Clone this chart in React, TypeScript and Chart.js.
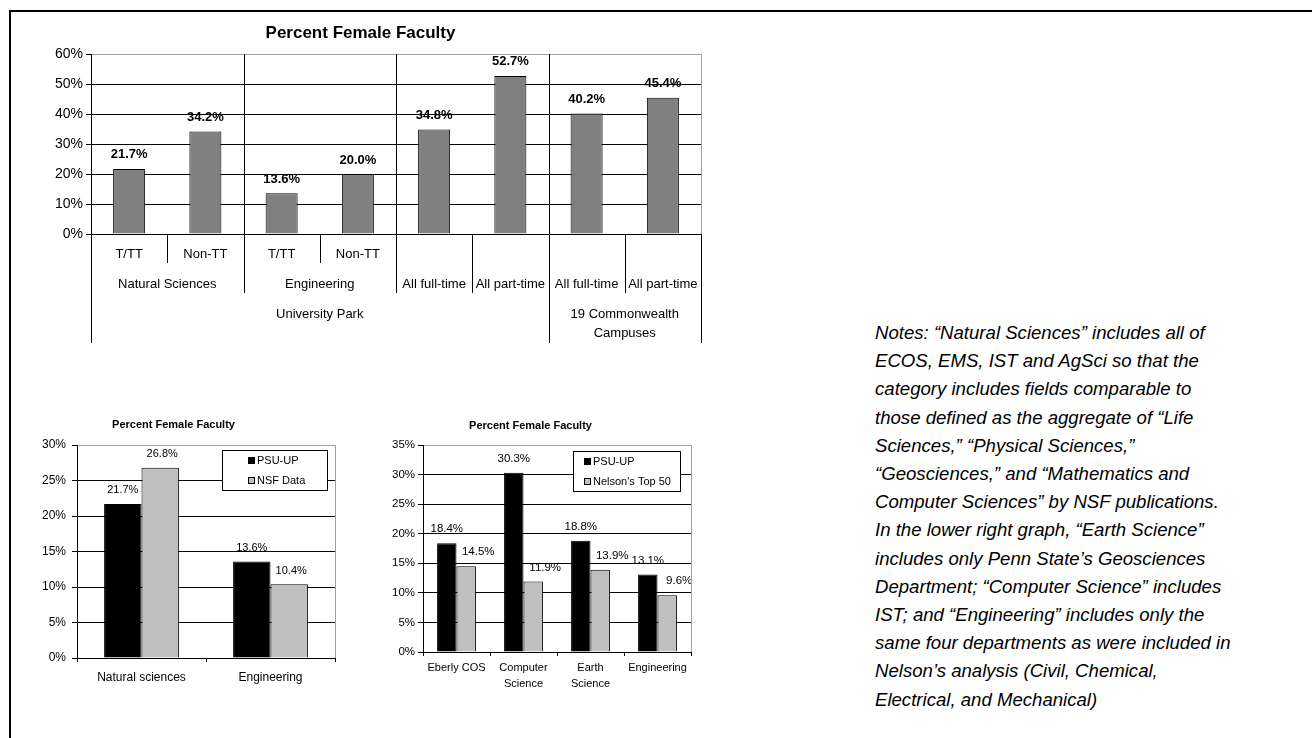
import React, { useEffect, useRef } from 'react';
import { Chart, registerables } from 'chart.js';

Chart.register(...registerables);

const FONT = "'Liberation Sans', Arial, Helvetica, sans-serif";
Chart.defaults.font.family = FONT;
Chart.defaults.color = '#000';

// ---------- Top chart data ----------
const topTitle = 'Percent Female Faculty';
const topValues = [21.7, 34.2, 13.6, 20.0, 34.8, 52.7, 40.2, 45.4];
const topLevel1 = ['T/TT', 'Non-TT', 'T/TT', 'Non-TT', '', '', '', ''];
const topLevel2: [string, number][] = [
  ['Natural Sciences', 2],
  ['Engineering', 2],
  ['All full-time', 1],
  ['All part-time', 1],
  ['All full-time', 1],
  ['All part-time', 1],
];
const topLevel3: [string[], number][] = [
  [['University Park'], 6],
  [['19 Commonwealth', 'Campuses'], 2],
];
const topMax = 60;
const topStep = 10;

// ---------- Lower left chart data ----------
const nsfTitle = 'Percent Female Faculty';
const nsfCategories = ['Natural sciences', 'Engineering'];
const nsfSeries = ['PSU-UP', 'NSF Data'];
const nsfPsu = [21.7, 13.6];
const nsfNsf = [26.8, 10.4];
const nsfMax = 30;
const nsfStep = 5;

// ---------- Lower right chart data ----------
const nelTitle = 'Percent Female Faculty';
const nelCategories = [['Eberly COS'], ['Computer', 'Science'], ['Earth', 'Science'], ['Engineering']];
const nelSeries = ['PSU-UP', "Nelson's Top 50"];
const nelPsu = [18.4, 30.3, 18.8, 13.1];
const nelTop = [14.5, 11.9, 13.9, 9.6];
const nelMax = 35;
const nelStep = 5;

// ---------- Notes ----------
const noteLines = [
  'Notes: \u201CNatural Sciences\u201D includes all of',
  'ECOS, EMS, IST and AgSci so that the',
  'category includes fields comparable to',
  'those defined as the aggregate of \u201CLife',
  'Sciences,\u201D \u201CPhysical Sciences,\u201D',
  '\u201CGeosciences,\u201D and \u201CMathematics and',
  'Computer Sciences\u201D by NSF publications.',
  'In the lower right graph, \u201CEarth Science\u201D',
  'includes only Penn State\u2019s Geosciences',
  'Department; \u201CComputer Science\u201D includes',
  'IST; and \u201CEngineering\u201D includes only the',
  'same four departments as were included in',
  'Nelson\u2019s analysis (Civil, Chemical,',
  'Electrical, and Mechanical)',
];

const pct = (v: number) => v.toFixed(1) + '%';

// ---------- Plugins ----------
const plotBorderPlugin = {
  id: 'plotBorder',
  afterDraw(chart: any, _a: any, o: any) {
    const { ctx, chartArea: a } = chart;
    ctx.save();
    ctx.strokeStyle = o.color || '#a0a0a0';
    ctx.lineWidth = 1;
    ctx.beginPath();
    const x = Math.round(a.right) + 0.5;
    ctx.moveTo(x, a.top);
    ctx.lineTo(x, a.bottom);
    ctx.stroke();
    ctx.restore();
  },
};

const valueLabelPlugin = {
  id: 'valueLabels',
  afterDatasetsDraw(chart: any, _a: any, o: any) {
    const ctx = chart.ctx;
    ctx.save();
    ctx.font = o.font;
    ctx.fillStyle = '#000';
    ctx.textAlign = 'center';
    ctx.textBaseline = 'middle';
    chart.data.datasets.forEach((ds: any, di: number) => {
      const meta = chart.getDatasetMeta(di);
      const dx = (o.dx && o.dx[di]) || 0;
      meta.data.forEach((bar: any, i: number) => {
        ctx.fillText(pct(ds.data[i]), bar.x + dx, bar.y - o.offset);
      });
    });
    ctx.restore();
  },
};

const boxLegendPlugin = {
  id: 'boxLegend',
  afterDraw(chart: any, _a: any, o: any) {
    const { ctx, chartArea: a } = chart;
    const x = Math.round(a.right - o.right - o.width);
    const y = Math.round(a.top + o.top);
    ctx.save();
    ctx.fillStyle = '#fff';
    ctx.fillRect(x, y, o.width, o.height);
    ctx.strokeStyle = '#000';
    ctx.lineWidth = 1;
    ctx.strokeRect(x + 0.5, y + 0.5, o.width, o.height);
    ctx.font = o.font;
    ctx.textBaseline = 'middle';
    ctx.textAlign = 'left';
    chart.data.datasets.forEach((ds: any, i: number) => {
      const cy = Math.round(y + o.firstRow + i * o.rowGap);
      const sx = x + o.swatchX;
      ctx.fillStyle = ds.backgroundColor;
      ctx.fillRect(sx, cy - 3, 7, 7);
      ctx.strokeStyle = '#000';
      ctx.strokeRect(sx + 0.5, cy - 2.5, 6, 6);
      ctx.fillStyle = '#000';
      ctx.fillText(ds.label, sx + o.textGap, cy + 0.5);
    });
    ctx.restore();
  },
};

// multi-level category axis for the top chart
const groupAxisPlugin = {
  id: 'groupAxis',
  beforeDatasetsDraw(chart: any) {
    const { ctx, chartArea: a, scales } = chart;
    const x = scales.x;
    const bp = (b: number) => Math.round(x.getPixelForValue(b - 0.5)) + 0.5;
    const l2b = new Set<number>();
    let s = 0;
    topLevel2.forEach(([, span]) => {
      if (span > 1) { l2b.add(s); l2b.add(s + span); }
      s += span;
    });
    const l3b = new Set<number>();
    s = 0;
    topLevel3.forEach(([, span]) => { l3b.add(s); l3b.add(s + span); s += span; });
    const n = topValues.length;
    const inner = new Set<number>();
    l2b.forEach((b) => { if (b > 0 && b < n) inner.add(b); });
    l3b.forEach((b) => { if (b > 0 && b < n) inner.add(b); });
    ctx.save();
    ctx.strokeStyle = '#000';
    ctx.lineWidth = 1;
    inner.forEach((b) => {
      ctx.beginPath();
      ctx.moveTo(bp(b), a.top);
      ctx.lineTo(bp(b), a.bottom);
      ctx.stroke();
    });
    ctx.restore();
  },
  afterDraw(chart: any, _a: any, o: any) {
    const { ctx, chartArea: a, scales } = chart;
    const x = scales.x;
    const bp = (b: number) => x.getPixelForValue(b - 0.5);
    const n = topValues.length;
    const l2 = new Set<number>();
    let s = 0;
    l2.add(0);
    topLevel2.forEach(([, span]) => { s += span; l2.add(s); });
    const l3 = new Set<number>();
    s = 0;
    l3.add(0);
    topLevel3.forEach(([, span]) => { s += span; l3.add(s); });

    ctx.save();
    ctx.strokeStyle = '#000';
    ctx.lineWidth = 1;
    const y0 = a.bottom;
    for (let b = 0; b <= n; b++) {
      const depth = l3.has(b) ? o.line3 : l2.has(b) ? o.line2 : o.line1;
      const px = Math.round(bp(b)) + 0.5;
      ctx.beginPath();
      ctx.moveTo(px, y0);
      ctx.lineTo(px, y0 + depth);
      ctx.stroke();
    }
    ctx.fillStyle = '#000';
    ctx.font = o.font;
    ctx.textAlign = 'center';
    ctx.textBaseline = 'middle';
    topLevel1.forEach((lab, i) => {
      if (lab) ctx.fillText(lab, x.getPixelForValue(i), y0 + o.row1);
    });
    s = 0;
    topLevel2.forEach(([lab, span]) => {
      ctx.fillText(lab, (bp(s) + bp(s + span)) / 2, y0 + o.row2);
      s += span;
    });
    s = 0;
    topLevel3.forEach(([lines, span]) => {
      lines.forEach((ln, k) => {
        ctx.fillText(ln, (bp(s) + bp(s + span)) / 2, y0 + o.row3 + k * o.row3Gap);
      });
      s += span;
    });
    ctx.restore();
  },
};

const gridColor = (max: number) => (c: any) =>
  c.tick && c.tick.value === max ? '#a0a0a0' : '#000';

function useChart(ref: React.RefObject<HTMLCanvasElement>, makeConfig: () => any) {
  useEffect(() => {
    if (!ref.current) return;
    const chart = new Chart(ref.current, makeConfig());
    return () => chart.destroy();
  }, []);
}

const topConfig = () => ({
  type: 'bar',
  data: {
    labels: topLevel1.map((l, i) => l || String(i)),
    datasets: [
      {
        label: topTitle,
        data: topValues,
        backgroundColor: '#808080',
        borderColor: '#000',
        borderWidth: 1,
        barPercentage: 0.42,
        categoryPercentage: 1,
      },
    ],
  },
  options: {
    responsive: false,
    animation: false,
    devicePixelRatio: 1,
    layout: { padding: { left: 0, right: 19, top: 0, bottom: 0 } },
    scales: {
      x: {
        ticks: { display: false },
        grid: { display: false },
        border: { color: '#000' },
        afterFit: (s: any) => { s.height = 120; },
      },
      y: {
        min: 0,
        max: topMax,
        ticks: { stepSize: topStep, callback: (v: any) => v + '%', font: { size: 14 }, color: '#000', padding: 3 },
        grid: { color: gridColor(topMax), tickColor: '#000', tickLength: 5 },
        border: { color: '#000' },
        afterFit: (s: any) => { s.width = 71; },
      },
    },
    plugins: {
      legend: { display: false },
      tooltip: { enabled: false },
      title: {
        display: true,
        text: topTitle,
        color: '#000',
        font: { size: 17, weight: 'bold', lineHeight: 1.2 },
        padding: { top: 9.5, bottom: 10.1 },
      },
      valueLabels: { font: 'bold 13px ' + FONT, offset: 14 },
      plotBorder: {},
      groupAxis: { font: '13px ' + FONT, row1: 20, row2: 50, row3: 80, row3Gap: 19, line1: 29, line2: 59, line3: 109 },
    },
  },
  plugins: [groupAxisPlugin, valueLabelPlugin, plotBorderPlugin],
});

const nsfConfig = () => ({
  type: 'bar',
  data: {
    labels: nsfCategories,
    datasets: [
      { label: nsfSeries[0], data: nsfPsu, backgroundColor: '#000000', borderColor: '#000', borderWidth: 1 },
      { label: nsfSeries[1], data: nsfNsf, backgroundColor: '#c0c0c0', borderColor: '#000', borderWidth: 1 },
    ],
  },
  options: {
    responsive: false,
    animation: false,
    devicePixelRatio: 1,
    datasets: { bar: { categoryPercentage: 0.58, barPercentage: 1 } },
    layout: { padding: { left: 0, right: 22, top: 0, bottom: 0 } },
    scales: {
      x: {
        ticks: { font: { size: 12 }, color: '#000', padding: 8 },
        grid: { display: true, drawOnChartArea: false, drawTicks: true, tickLength: 4, color: '#000', offset: true },
        border: { color: '#000' },
        afterFit: (s: any) => { s.height = 47; },
      },
      y: {
        min: 0,
        max: nsfMax,
        ticks: { stepSize: nsfStep, callback: (v: any) => v + '%', font: { size: 12 }, color: '#000', padding: 6 },
        grid: { color: gridColor(nsfMax), tickColor: '#000', tickLength: 5 },
        border: { color: '#000' },
        afterFit: (s: any) => { s.width = 65; },
      },
    },
    plugins: {
      legend: { display: false },
      tooltip: { enabled: false },
      title: {
        display: true,
        text: nsfTitle,
        color: '#000',
        font: { size: 11, weight: 'bold', lineHeight: 1.2 },
        padding: { top: 13.4, bottom: 13.4 },
      },
      valueLabels: { font: '11px ' + FONT, offset: 13.5, dx: [0, 2] },
      boxLegend: { font: '11px ' + FONT, right: 8, top: 5, width: 105, height: 40, firstRow: 10, rowGap: 20, swatchX: 26, textGap: 9 },
      plotBorder: {},
    },
  },
  plugins: [valueLabelPlugin, boxLegendPlugin, plotBorderPlugin],
});

const nelConfig = () => ({
  type: 'bar',
  data: {
    labels: nelCategories,
    datasets: [
      { label: nelSeries[0], data: nelPsu, backgroundColor: '#000000', borderColor: '#000', borderWidth: 1 },
      { label: nelSeries[1], data: nelTop, backgroundColor: '#c0c0c0', borderColor: '#000', borderWidth: 1 },
    ],
  },
  options: {
    responsive: false,
    animation: false,
    devicePixelRatio: 1,
    datasets: { bar: { categoryPercentage: 0.58, barPercentage: 1 } },
    layout: { padding: { left: 0, right: 19, top: 0, bottom: 0 } },
    scales: {
      x: {
        ticks: { font: { size: 11, lineHeight: 1.45 }, color: '#000', padding: 4, maxRotation: 0, autoSkip: false },
        grid: { display: true, drawOnChartArea: false, drawTicks: true, tickLength: 4, color: '#000', offset: true },
        border: { color: '#000' },
        afterFit: (s: any) => { s.height = 53; },
      },
      y: {
        min: 0,
        max: nelMax,
        ticks: { stepSize: nelStep, callback: (v: any) => v + '%', font: { size: 11.5 }, color: '#000', padding: 3 },
        grid: { color: gridColor(nelMax), tickColor: '#000', tickLength: 5 },
        border: { color: '#000' },
        afterFit: (s: any) => { s.width = 53; },
      },
    },
    plugins: {
      legend: { display: false },
      tooltip: { enabled: false },
      title: {
        display: true,
        text: nelTitle,
        color: '#000',
        font: { size: 11, weight: 'bold', lineHeight: 1.2 },
        padding: { top: 14.4, bottom: 12.4 },
      },
      valueLabels: { font: '11.5px ' + FONT, offset: 14, dx: [0, 12] },
      boxLegend: { font: '11px ' + FONT, right: 11, top: 6, width: 107, height: 40, firstRow: 10, rowGap: 19.5, swatchX: 11, textGap: 9 },
      plotBorder: {},
    },
  },
  plugins: [valueLabelPlugin, boxLegendPlugin, plotBorderPlugin],
});

export default function App() {
  const topRef = useRef<HTMLCanvasElement>(null);
  const nsfRef = useRef<HTMLCanvasElement>(null);
  const nelRef = useRef<HTMLCanvasElement>(null);
  useChart(topRef, topConfig);
  useChart(nsfRef, nsfConfig);
  useChart(nelRef, nelConfig);

  return (
    <div
      style={{
        position: 'absolute',
        left: 0,
        top: 0,
        width: 1312,
        height: 738,
        overflow: 'hidden',
        background: '#fff',
        fontFamily: FONT,
      }}
    >
      <div
        style={{
          position: 'absolute',
          left: 9,
          top: 10,
          width: 1400,
          height: 900,
          border: '2px solid #000',
        }}
      />
      <canvas ref={topRef} width={700} height={340} style={{ position: 'absolute', left: 20, top: 14 }} />
      <canvas ref={nsfRef} width={345} height={300} style={{ position: 'absolute', left: 12, top: 405 }} />
      <canvas ref={nelRef} width={340} height={300} style={{ position: 'absolute', left: 370, top: 405 }} />
      <div
        style={{
          position: 'absolute',
          left: 875,
          top: 319,
          fontSize: 18.6,
          fontStyle: 'italic',
          lineHeight: '28.2px',
          whiteSpace: 'pre',
          color: '#000',
        }}
      >
        {noteLines.join('\n')}
      </div>
    </div>
  );
}
